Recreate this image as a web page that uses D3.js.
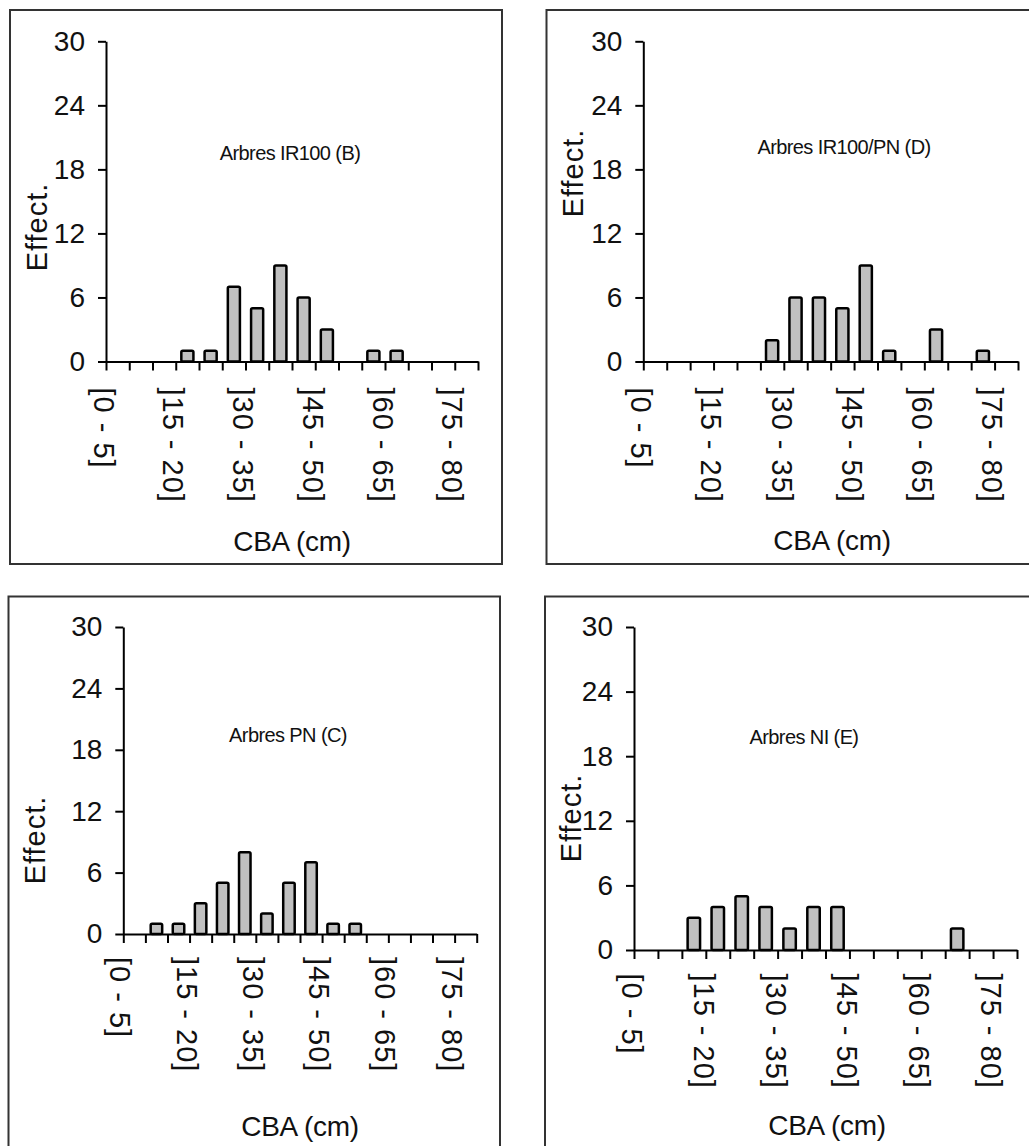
<!DOCTYPE html>
<html>
<head>
<meta charset="utf-8">
<script src="https://cdn.jsdelivr.net/npm/d3@7"></script>
<style>
  body { margin: 0; background: #fff; }
  svg { display: block; }
  text { font-family: 'Liberation Sans', Arial, sans-serif; fill: #111; }
  .axis path, .axis line { stroke: #000; stroke-width: 2; }
</style>
</head>
<body>
<svg id="chart"></svg>
<script>
const categories = ['[0 - 5]', ']5 - 10]', ']10 - 15]', ']15 - 20]', ']20 - 25]', ']25 - 30]',
  ']30 - 35]', ']35 - 40]', ']40 - 45]', ']45 - 50]', ']50 - 55]', ']55 - 60]',
  ']60 - 65]', ']65 - 70]', ']70 - 75]', ']75 - 80]'];
const shownLabels = ['[0 - 5]', ']15 - 20]', ']30 - 35]', ']45 - 50]', ']60 - 65]', ']75 - 80]'];
const yTicks = [0, 6, 12, 18, 24, 30];

const arbresB = [0, 0, 0, 1, 1, 7, 5, 9, 6, 3, 0, 1, 1, 0, 0, 0];
const arbresD = [0, 0, 0, 0, 0, 2, 6, 6, 5, 9, 1, 0, 3, 0, 1, 0];
const arbresC = [0, 1, 1, 3, 5, 8, 2, 5, 7, 1, 1, 0, 0, 0, 0, 0];
const arbresE = [0, 0, 3, 4, 5, 4, 2, 4, 4, 0, 0, 0, 0, 2, 0, 0];

const titles = ['Arbres IR100 (B)', 'Arbres IR100/PN (D)', 'Arbres PN (C)', 'Arbres NI (E)'];

// layout of each panel (box, plot area, text spots)
const panels = [
  { values: arbresB, title: titles[0], box: [10, 10, 502, 564],
    ax: 106, ar: 478, y0: 361.5, y30: 41.3, labelGap: 26,
    title_xy: [290, 153], ylab_xy: [37, 227], xlab_xy: [292, 541] },
  { values: arbresD, title: titles[1], box: [546.5, 10, 1040, 564],
    ax: 643.3, ar: 1018, y0: 361.5, y30: 41.3, labelGap: 26,
    title_xy: [844, 147], ylab_xy: [573, 173], xlab_xy: [832, 540] },
  { values: arbresC, title: titles[2], box: [8.5, 596.5, 500, 1160],
    ax: 123.3, ar: 476.7, y0: 934, y30: 627, labelGap: 23,
    title_xy: [288, 735], ylab_xy: [35, 840], xlab_xy: [300, 1126] },
  { values: arbresE, title: titles[3], box: [545, 596.5, 1040, 1160],
    ax: 634, ar: 1017, y0: 950, y30: 627, labelGap: 23.5,
    title_xy: [804, 737], ylab_xy: [571, 818], xlab_xy: [827, 1125] }
];

const svg = d3.select('#chart')
  .attr('width', 1029)
  .attr('height', 1146);

panels.forEach(p => {
  const g = svg.append('g');

  g.append('rect')
    .attr('x', p.box[0])
    .attr('y', p.box[1])
    .attr('width', p.box[2] - p.box[0])
    .attr('height', p.box[3] - p.box[1])
    .attr('fill', 'none')
    .attr('stroke', '#333')
    .attr('stroke-width', 2);

  const x = d3.scaleBand()
    .domain(categories)
    .range([p.ax, p.ar])
    .padding(0);

  const xIdx = d3.scaleLinear()
    .domain([0, categories.length])
    .range([p.ax, p.ar]);

  const y = d3.scaleLinear()
    .domain([0, 30])
    .range([p.y0, p.y30]);

  const barW = x.bandwidth() * 0.52;

  g.append('g')
    .selectAll('rect')
    .data(p.values.map((v, i) => ({ key: categories[i], value: v })).filter(d => d.value > 0))
    .enter()
    .append('rect')
    .attr('x', d => x(d.key) + (x.bandwidth() - barW) / 2)
    .attr('y', d => y(d.value))
    .attr('width', barW)
    .attr('height', d => y(0) - y(d.value))
    .attr('rx', 1.5)
    .attr('fill', '#c0c0c0')
    .attr('stroke', '#000')
    .attr('stroke-width', 2.5);

  // ticks on category boundaries
  g.append('g')
    .attr('class', 'axis')
    .attr('transform', `translate(0,${p.y0})`)
    .call(d3.axisBottom(xIdx).tickValues(d3.range(categories.length + 1)).tickSize(9).tickSizeOuter(0).tickFormat(''));

  g.append('g')
    .attr('class', 'axis')
    .attr('transform', `translate(${p.ax},0)`)
    .call(d3.axisLeft(y).tickValues(yTicks).tickSize(8).tickSizeOuter(0).tickPadding(13))
    .selectAll('text')
    .style('font-size', '28px')
    .attr('fill', '#111');

  g.append('g')
    .selectAll('text')
    .data(shownLabels)
    .enter()
    .append('text')
    .attr('transform', d => `translate(${x(d) + x.bandwidth() / 2 - 14}, ${p.y0 + p.labelGap}) rotate(90)`)
    .attr('text-anchor', 'start')
    .attr('dominant-baseline', 'central')
    .style('font-size', '29px')
    .style('letter-spacing', '1px')
    .text(d => d);

  g.append('text')
    .attr('transform', `translate(${p.ylab_xy[0]}, ${p.ylab_xy[1]}) rotate(-90)`)
    .attr('text-anchor', 'middle')
    .attr('dominant-baseline', 'central')
    .style('font-size', '29px')
    .style('letter-spacing', '1px')
    .text('Effect.');

  g.append('text')
    .attr('x', p.title_xy[0])
    .attr('y', p.title_xy[1])
    .attr('text-anchor', 'middle')
    .attr('dominant-baseline', 'central')
    .style('font-size', '20px')
    .style('letter-spacing', '-0.6px')
    .text(p.title);

  g.append('text')
    .attr('x', p.xlab_xy[0])
    .attr('y', p.xlab_xy[1])
    .attr('text-anchor', 'middle')
    .attr('dominant-baseline', 'central')
    .style('font-size', '28px')
    .style('letter-spacing', '-0.3px')
    .text('CBA (cm)');
});
</script>
</body>
</html>
